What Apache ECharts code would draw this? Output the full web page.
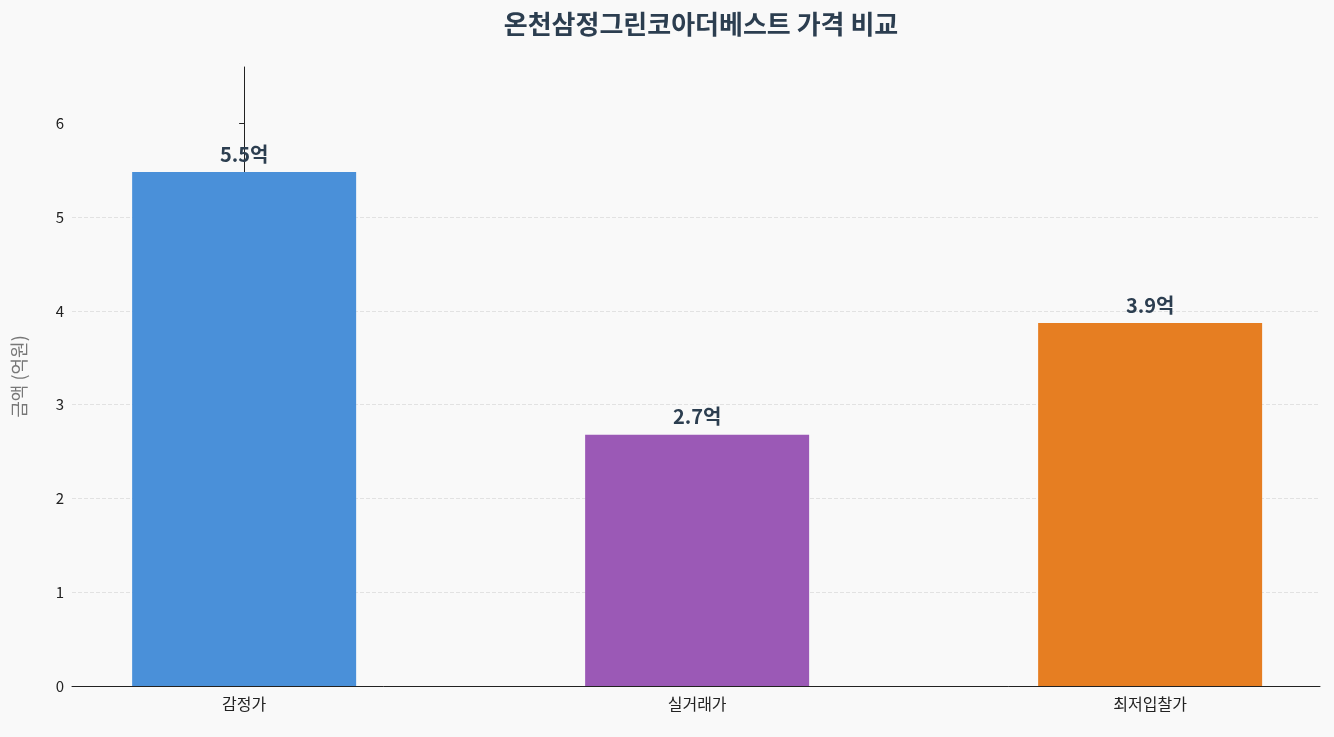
<!DOCTYPE html>
<html>
<head>
<meta charset="utf-8">
<script src="https://cdn.jsdelivr.net/npm/echarts@6/dist/echarts.min.js"></script>
<style>
html, body { margin: 0; padding: 0; background: #f9f9f9; }
#chart { width: 1334px; height: 737px; }
</style>
</head>
<body>
<div id="chart"></div>
<script>
// Data
var categories = ['감정가', '실거래가', '최저입찰가'];
var values = [5.48, 2.68, 3.87];
var barColors = ['#4a90d9', '#9b59b6', '#e67e22'];
var yTicks = [0, 1, 2, 3, 4, 5, 6];

var chart = echarts.init(document.getElementById('chart'));

chart.setOption({
    backgroundColor: '#f9f9f9',
    textStyle: { fontFamily: '"Noto Sans CJK KR", "Noto Sans", sans-serif' },
    animation: false,
    title: {
        text: '온천삼정그린코아더베스트 가격 비교',
        left: 696,
        textAlign: 'center',
        top: 6,
        textStyle: { fontSize: 26, fontWeight: 'bold', color: '#2c3e50' }
    },
    grid: { left: 72, right: 14, top: 67, bottom: 51 },
    xAxis: {
        type: 'value',
        min: -0.38,
        max: 2.375,
        axisTick: { show: false },
        splitLine: { show: false },
        axisLine: { show: true, onZero: false, lineStyle: { color: '#222' } },
        axisLabel: {
            color: '#222', fontSize: 16, margin: 10,
            customValues: [0, 1, 2],
            formatter: function(v) { return categories[Math.round(v)]; }
        }
    },
    yAxis: {
        type: 'value',
        min: 0,
        max: 6.6,
        interval: 1,
        name: '금액 (억원)',
        nameLocation: 'middle',
        nameGap: 44,
        nameTextStyle: { color: '#777', fontSize: 18 },
        axisLine: { show: true, lineStyle: { color: '#222' } },
        axisTick: { show: true, length: 5, customValues: yTicks, lineStyle: { color: '#222' } },
        axisLabel: { color: '#222', fontSize: 15, customValues: yTicks },
        splitLine: { showMaxLine: false, lineStyle: { color: '#e2e2e2', type: 'dashed' } }
    },
    series: [{
        type: 'bar',
        barWidth: 224,
        data: values.map(function(v, i) {
            return { value: [i, v], itemStyle: { color: barColors[i] } };
        }),
        label: {
            show: true,
            position: 'top',
            distance: 8,
            fontSize: 20,
            fontWeight: 'bold',
            color: '#2c3e50',
            formatter: function(p) { return p.value[1].toFixed(1) + '억'; }
        }
    }]
});
</script>
</body>
</html>
